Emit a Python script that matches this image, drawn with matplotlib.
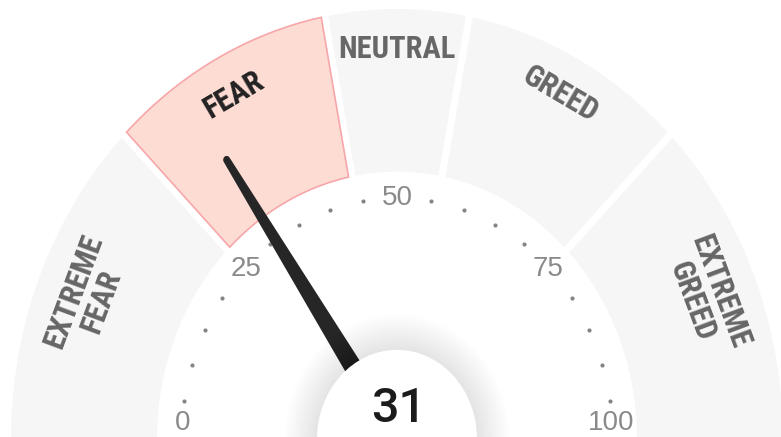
import os
import numpy as np
import matplotlib
matplotlib.use("Agg")
import matplotlib.pyplot as plt
from matplotlib import font_manager as fm
from matplotlib.patches import Polygon, Circle

# gauge data
zone_names = ["EXTREME\nFEAR", "FEAR", "NEUTRAL", "GREED", "EXTREME\nGREED"]
zone_edges = [0, 25, 44, 56, 75, 100]
tick_values = [0, 25, 50, 75, 100]
tick_labels = ["0", "25", "50", "75", "100"]
dot_values = [5, 10, 15, 20, 30, 35, 40, 45, 55, 60, 65, 70, 80, 85, 90, 95]
score = 31
current_zone = "FEAR"

# geometry (horizontal pixels, picture is a bit stretched vertically)
R_OUT, R_IN = 386, 240
HALF_GAP = 3.5
STRETCH = 1.114
CX, CY = 397, 439


def ang(v):
    return np.radians(180 - 1.8 * v)


def sector(v0, v1, r0, r1, gap0, gap1):
    a0, a1 = ang(v0), ang(v1)
    t_out = np.linspace(a0 - np.arcsin(gap0 / r1), a1 + np.arcsin(gap1 / r1), 120)
    t_in = np.linspace(a1 + np.arcsin(gap1 / r0), a0 - np.arcsin(gap0 / r0), 120)
    xs = np.concatenate([r1 * np.cos(t_out), r0 * np.cos(t_in)])
    ys = np.concatenate([r1 * np.sin(t_out), r0 * np.sin(t_in)])
    return np.column_stack([xs, ys])


def condensed_bold(size):
    # look for a condensed bold face on the system, else DejaVu bold
    wanted = ["RobotoCondensed-Bold", "NotoSans-CondensedBold",
              "LiberationSansNarrow-Bold", "DejaVuSansCondensed-Bold",
              "OpenSans-CondensedBold", "NotoSans-SemiCondensedBold"]
    files = set(fm.findSystemFonts()) | {f.fname for f in fm.fontManager.ttflist}
    by_base = {os.path.splitext(os.path.basename(f))[0]: f for f in files}
    for w in wanted:
        if w in by_base:
            return fm.FontProperties(fname=by_base[w], size=size)
    return fm.FontProperties(family="DejaVu Sans", weight="bold", size=size)


fig = plt.figure(figsize=(7.81, 4.37), dpi=100)
ax = fig.add_axes([0, 0, 1, 1])
ax.set_xlim(-CX, 781 - CX)
ax.set_ylim((CY - 437) / STRETCH, CY / STRETCH)
ax.axis("off")

label_fp = condensed_bold(22)

for i, name in enumerate(zone_names):
    v0, v1 = zone_edges[i], zone_edges[i + 1]
    g0 = HALF_GAP if i > 0 else 0
    g1 = HALF_GAP if i < len(zone_names) - 1 else 0
    hot = name == current_zone
    ax.add_patch(Polygon(sector(v0, v1, R_IN, R_OUT, g0, g1), closed=True,
                         facecolor="#fddcd4" if hot else "#f6f6f6",
                         edgecolor="#f7a6a9" if hot else "none",
                         lw=1.2, zorder=1))
    mid = (v0 + v1) / 2
    a = ang(mid)
    nlines = name.count("\n") + 1
    r = 350 - 15 * (nlines - 1)
    rot = np.degrees(np.arctan2(-STRETCH * np.cos(a), np.sin(a)))
    ax.text(r * np.cos(a), r * np.sin(a), name, rotation=rot,
            rotation_mode="anchor", ha="center", va="center",
            fontproperties=label_fp, color="#222222" if hot else "#666666",
            linespacing=1.0, zorder=2)

# small dots
dv = np.array(dot_values)
ax.scatter(216 * np.cos(ang(dv)), 216 * np.sin(ang(dv)), s=9,
           color="#858585", linewidths=0, zorder=2)

# number labels
for v, lab in zip(tick_values, tick_labels):
    a = ang(v)
    x, y = 214 * np.cos(a), 216 * np.sin(a)
    ax.text(x, max(y, 14), lab, ha="center", va="center", fontsize=20,
            family=["Liberation Sans", "DejaVu Sans"], color="#8a8a8a", zorder=2)

# needle
a = ang(score)
d = np.array([np.cos(a), np.sin(a)])
p = np.array([-np.sin(a), np.cos(a)])
tip_len, w_base, w_tip = 303, 10.5, 3.5
cap = np.linspace(-np.pi / 2, np.pi / 2, 20)
tip_pts = [tip_len * d + w_tip * (np.sin(c) * p + np.cos(c) * d) for c in cap]
pts = [w_base * p] + tip_pts[::-1] + [-w_base * p]
ax.add_patch(Polygon(np.array(pts), closed=True, facecolor="#262626",
                     edgecolor="none", zorder=3))

# soft shadow and centre disc
for rr in np.linspace(80, 112, 14):
    ax.add_patch(Circle((0, 0), rr, facecolor="black", edgecolor="none",
                        alpha=0.006, zorder=4))
ax.add_patch(Circle((0, 0), 80, facecolor="white", edgecolor="none", zorder=5))
ax.text(2, 27, str(score), ha="center", va="center", fontsize=35,
        fontweight="medium", family=["Roboto", "Liberation Sans", "DejaVu Sans"],
        color="#1b1b1b", zorder=6)

fig.savefig("out.png", dpi=100, facecolor="white")
